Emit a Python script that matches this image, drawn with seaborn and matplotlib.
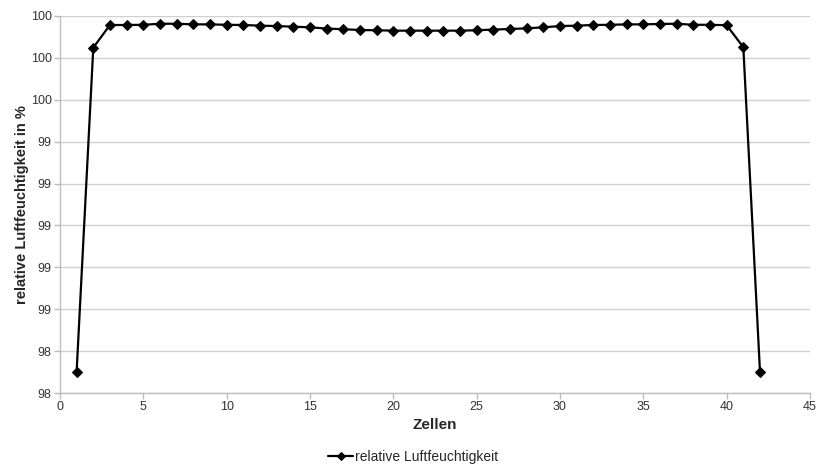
import numpy as np
import pandas as pd
import matplotlib
matplotlib.use("Agg")
import matplotlib.pyplot as plt
import seaborn as sns
from matplotlib.ticker import FuncFormatter

# Werte
zellen = list(range(1, 43))
feuchte = [
    98.302, 99.849, 99.957, 99.957, 99.958, 99.963, 99.963, 99.960, 99.960, 99.958,
    99.957, 99.954, 99.952, 99.949, 99.946, 99.940, 99.937, 99.933, 99.932, 99.930,
    99.930, 99.930, 99.930, 99.930, 99.932, 99.935, 99.938, 99.941, 99.946, 99.952,
    99.954, 99.957, 99.958, 99.960, 99.960, 99.962, 99.963, 99.958, 99.958, 99.956,
    99.851, 98.302,
]
y_ticks = [98.2, 98.4, 98.6, 98.8, 99.0, 99.2, 99.4, 99.6, 99.8, 100.0]
x_ticks = [0, 5, 10, 15, 20, 25, 30, 35, 40, 45]

df = pd.DataFrame({"Zellen": zellen, "relative Luftfeuchtigkeit": feuchte})

sns.set_theme(style="white")
plt.rcParams["font.family"] = ["Liberation Sans", "DejaVu Sans"]

fig = plt.figure(figsize=(8.18, 4.65), dpi=100)
ax = fig.add_axes([0.0733, 0.1548, 0.9169, 0.8108])

sns.lineplot(
    data=df, x="Zellen", y="relative Luftfeuchtigkeit", ax=ax,
    color="black", linewidth=1.6, marker="D", markersize=5,
    markeredgecolor="black", label="relative Luftfeuchtigkeit",
)

ax.set_xlim(0, 45)
ax.set_ylim(98.2, 100.0)
ax.set_xticks(x_ticks)
ax.set_yticks(y_ticks)
ax.yaxis.set_major_formatter(FuncFormatter(lambda v, p: f"{v:.0f}"))
ax.yaxis.grid(True, color="#d0d0d0", linewidth=1)
ax.set_axisbelow(True)

for side in ["top", "right"]:
    ax.spines[side].set_visible(False)
for side in ["left", "bottom"]:
    ax.spines[side].set_color("#bdbdbd")
    ax.spines[side].set_linewidth(1)

ax.tick_params(axis="both", labelsize=9, colors="#333333", length=4, width=1,
               direction="out", left=True, bottom=True, pad=2)
ax.tick_params(axis="both", color="#bdbdbd")

ax.set_xlabel("Zellen", fontsize=11, fontweight="bold", labelpad=3)
ax.set_ylabel("relative Luftfeuchtigkeit in %", fontsize=10.5, fontweight="bold", labelpad=1)

ax.legend(loc="center", bbox_to_anchor=(0.471, -0.17), frameon=False,
          fontsize=10, handlelength=1.8, handletextpad=0.1, borderaxespad=0,
          markerscale=0.8)

fig.savefig("out.png", dpi=100)
